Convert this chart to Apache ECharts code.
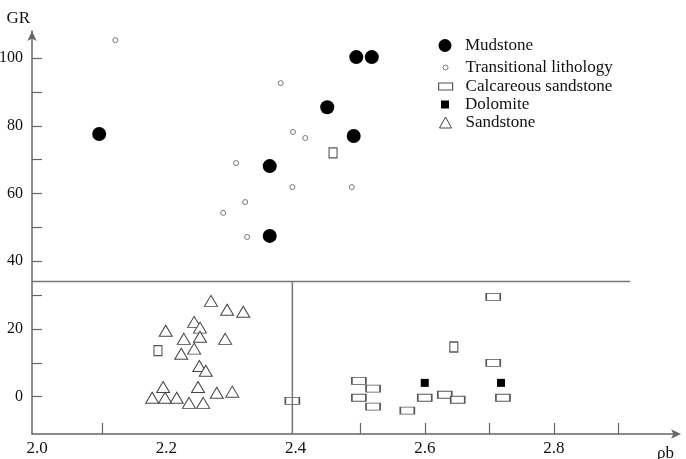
<!DOCTYPE html>
<html>
<head>
<meta charset="utf-8">
<script src="https://cdn.jsdelivr.net/npm/echarts@6/dist/echarts.min.js"></script>
<style>
  html, body { margin: 0; padding: 0; background: #fff; }
  #chart { width: 686px; height: 459px; }
</style>
</head>
<body>
<div id="chart"></div>
<script>
// 数据 [ρb, GR]
const mudstone = [
  [2.096, 77.6], [2.494, 100.3], [2.518, 100.3], [2.449, 85.5],
  [2.360, 68.1], [2.490, 77.0], [2.360, 47.5]
];
const transitional = [
  [2.121, 105.3], [2.377, 92.6], [2.396, 78.2], [2.415, 76.4], [2.308, 69.0],
  [2.322, 57.5], [2.288, 54.3], [2.325, 47.2], [2.395, 61.9], [2.487, 61.9]
];
// 横向的方框
const calcareousWide = [
  [2.395, -1.2], [2.706, 29.5], [2.706, 10.0], [2.498, 4.7], [2.520, 2.4],
  [2.498, -0.3], [2.520, -2.9], [2.573, -4.1], [2.600, -0.3], [2.631, 0.6],
  [2.651, -0.9], [2.721, -0.3]
];
// 竖向的方框
const calcareousTall = [[2.458, 72.0], [2.187, 13.6], [2.645, 14.7]];
const dolomite = [[2.600, 4.1], [2.718, 4.1]];
const sandstone = [
  [2.269, 28.3], [2.294, 25.7], [2.319, 25.1], [2.243, 22.1], [2.252, 20.4],
  [2.199, 19.5], [2.227, 17.1], [2.252, 17.7], [2.291, 17.1], [2.243, 14.2],
  [2.223, 12.7], [2.251, 9.1], [2.261, 7.7], [2.195, 2.9], [2.249, 2.9],
  [2.278, 1.2], [2.302, 1.5], [2.178, -0.3], [2.198, -0.3], [2.216, -0.3],
  [2.235, -1.8], [2.257, -1.8]
];
// 分界线
const cutoffH = [[1.992, 34], [2.918, 34]];
const cutoffV = [[2.395, 34], [2.395, -11]];
// 刻度
const xTicks = [2.1, 2.5, 2.6, 2.7, 2.8, 2.9];
const xLabels = [2.0, 2.2, 2.4, 2.6, 2.8];
const yTicks = [0, 10, 20, 30, 40, 50, 60, 70, 80, 90, 100];
const yLabels = [0, 20, 40, 60, 80, 100];

const FONT = "Liberation Serif";

const chart = echarts.init(document.getElementById("chart"));

// 每个图例单独一个 legend，图标大小可以不一样
// legend 的 left 按图标可见宽度定位，所以要减去一半宽度让图标居中在 445
function makeLegend(name, top, icon, w, h, style) {
  return {
    data: [{ name: name, icon: icon }],
    left: 445 - w / 2,
    top: top,
    padding: 0,
    itemWidth: 30,
    itemHeight: h,
    selectedMode: false,
    itemStyle: style,
    textStyle: { fontFamily: FONT, fontSize: 17, color: "#111" }
  };
}

const option = {
  animation: false,
  backgroundColor: "#fff",
  grid: { left: 32, right: 8, top: 31, bottom: 25, outerBoundsMode: "none" },
  legend: [
    makeLegend("Mudstone", 37, "circle", 13, 13, { color: "#000", borderWidth: 0, opacity: 1 }),
    makeLegend("Transitional lithology", 59, "circle", 5, 5,
      { color: "#fff", borderColor: "#777", borderWidth: 1 }),
    makeLegend("Calcareous sandstone", 78, "path://M0,0L14,0L14,7L0,7Z", 14, 7,
      { color: "#fff", borderColor: "#555", borderWidth: 1.2 }),
    makeLegend("Dolomite", 96, "path://M0,0L1,0L1,1L0,1Z", 8, 8, { color: "#000", borderWidth: 0, opacity: 1 }),
    makeLegend("Sandstone", 114, "path://M6,0L12,11L0,11Z", 12, 11,
      { color: "#fff", borderColor: "#444", borderWidth: 1 })
  ],
  xAxis: {
    type: "value",
    min: 1.992,
    max: 2.992,
    splitLine: { show: false },
    name: "ρb",
    nameLocation: "end",
    nameGap: -21,
    nameTextStyle: { fontFamily: FONT, fontSize: 17, color: "#111", verticalAlign: "top", padding: [11, 0, 0, 0] },
    axisLine: {
      onZero: false, symbol: ["none", "arrow"], symbolSize: [7, 10], symbolOffset: [0, 3],
      lineStyle: { color: "#666", width: 1.5 }
    },
    axisTick: { inside: true, length: 11, customValues: xTicks, lineStyle: { color: "#666", width: 1.2 } },
    axisLabel: {
      customValues: xLabels,
      margin: 6,
      fontFamily: FONT,
      fontSize: 17,
      color: "#111",
      formatter: v => v.toFixed(1)
    }
  },
  yAxis: {
    type: "value",
    min: -11,
    max: 108,
    splitLine: { show: false },
    name: "GR",
    nameLocation: "end",
    nameGap: 4,
    nameTextStyle: { fontFamily: FONT, fontSize: 17, color: "#111", align: "right", padding: [0, 2, 0, 0] },
    axisLine: { onZero: false, symbol: ["none", "arrow"], symbolSize: [7, 10], lineStyle: { color: "#666", width: 1.5 } },
    axisTick: { inside: true, length: 10, customValues: yTicks, lineStyle: { color: "#666", width: 1.2 } },
    axisLabel: { customValues: yLabels, margin: 9, fontFamily: FONT, fontSize: 16, color: "#111" }
  },
  series: [
    {
      type: "line", data: cutoffH, symbol: "none", silent: true,
      lineStyle: { color: "#777", width: 1.5 }
    },
    {
      type: "line", data: cutoffV, symbol: "none", silent: true,
      lineStyle: { color: "#777", width: 1.5 }
    },
    {
      name: "Transitional lithology", type: "scatter", data: transitional,
      symbol: "circle", symbolSize: 5,
      itemStyle: { color: "#fff", borderColor: "#777", borderWidth: 1, opacity: 1 }
    },
    {
      name: "Calcareous sandstone", type: "scatter", data: calcareousWide,
      symbol: "rect", symbolSize: [14, 7],
      itemStyle: { color: "#fff", borderColor: "#555", borderWidth: 1.2, opacity: 1 }
    },
    {
      name: "Calcareous sandstone", type: "scatter", data: calcareousTall,
      symbol: "rect", symbolSize: [8, 10],
      itemStyle: { color: "#fff", borderColor: "#555", borderWidth: 1.2, opacity: 1 }
    },
    {
      name: "Sandstone", type: "scatter", data: sandstone,
      symbol: "triangle", symbolSize: [13, 11],
      itemStyle: { color: "#fff", borderColor: "#444", borderWidth: 1, opacity: 1 }
    },
    {
      name: "Dolomite", type: "scatter", data: dolomite,
      symbol: "rect", symbolSize: 8,
      itemStyle: { color: "#000", opacity: 1 }
    },
    {
      name: "Mudstone", type: "scatter", data: mudstone,
      symbol: "circle", symbolSize: 14,
      itemStyle: { color: "#000", opacity: 1 }
    }
  ]
};

chart.setOption(option);
</script>
</body>
</html>
